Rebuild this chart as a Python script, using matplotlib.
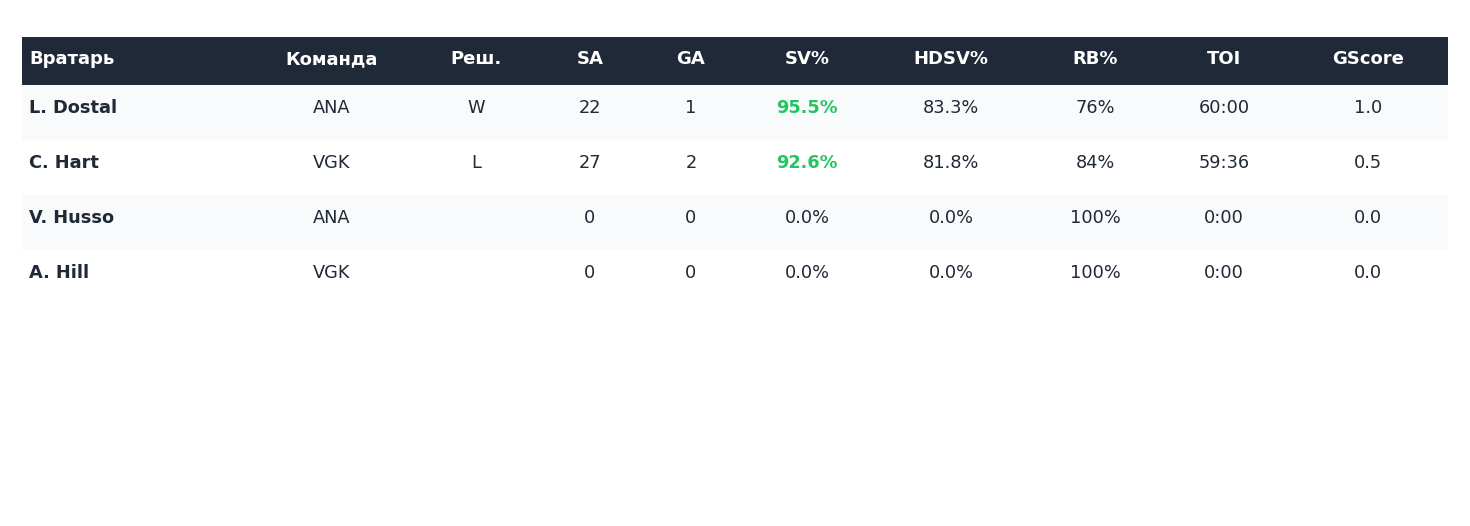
import matplotlib
matplotlib.use("Agg")
import matplotlib.pyplot as plt
from matplotlib.patches import Rectangle

# ---- table data ----
columns = ["Вратарь", "Команда", "Реш.", "SA", "GA", "SV%", "HDSV%", "RB%", "TOI", "GScore"]
goalies = ["L. Dostal", "C. Hart", "V. Husso", "A. Hill"]
teams = ["ANA", "VGK", "ANA", "VGK"]
decisions = ["W", "L", "", ""]
shots_against = [22, 27, 0, 0]
goals_against = [1, 2, 0, 0]
sv_pct = ["95.5%", "92.6%", "0.0%", "0.0%"]
hdsv_pct = ["83.3%", "81.8%", "0.0%", "0.0%"]
rb_pct = ["76%", "84%", "100%", "100%"]
toi = ["60:00", "59:36", "0:00", "0:00"]
gscore = ["1.0", "0.5", "0.0", "0.0"]

HEADER_BG = "#1f2937"
TEXT = "#1f2937"
STRIPE = "#f8fafc"
GREEN = "#22c55e"

# column centres in pixels (first column is left aligned)
col_x = [29, 332, 476, 590, 691, 807, 951, 1095, 1224, 1368]
left, right = 22, 1448
head_top, head_h = 37, 48
row_h = 55

fig = plt.figure(figsize=(14.7, 5.26), dpi=100)
ax = fig.add_axes([0, 0, 1, 1])
ax.set_xlim(0, 1470)
ax.set_ylim(526, 0)
ax.axis("off")

# header
ax.add_patch(Rectangle((left, head_top), right - left, head_h, color=HEADER_BG, lw=0))
for i, name in enumerate(columns):
    ax.text(col_x[i], head_top + 22, name, color="white", fontsize=13, fontweight="bold",
            ha="left" if i == 0 else "center", va="center")

# body rows
for r in range(len(goalies)):
    top = head_top + head_h + r * row_h
    if r % 2 == 0:
        ax.add_patch(Rectangle((left, top), right - left, row_h, color=STRIPE, lw=0))
    values = [goalies[r], teams[r], decisions[r], str(shots_against[r]), str(goals_against[r]),
              sv_pct[r], hdsv_pct[r], rb_pct[r], toi[r], gscore[r]]
    for i, v in enumerate(values):
        color = TEXT
        weight = "normal"
        if i == 0:
            weight = "bold"
        if i == 5 and float(v.rstrip("%")) >= 90:
            color = GREEN
            weight = "bold"
        ax.text(col_x[i], top + 22.8, v, color=color, fontsize=12.8, fontweight=weight,
                ha="left" if i == 0 else "center", va="center")

fig.savefig("out.png", dpi=100, facecolor="white")
